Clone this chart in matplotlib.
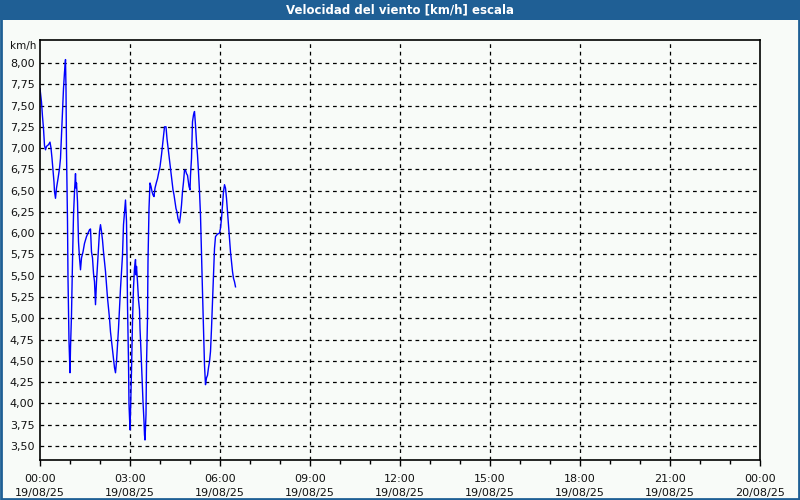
import matplotlib.pyplot as plt
from matplotlib.patches import Rectangle

# Wind speed samples: minutes after 00:00 on 19/08/25 and km/h
minutes = [0, 3, 5, 7, 9, 11, 13, 17, 20, 22, 24, 26, 28, 29, 31, 33, 36, 39, 41, 43,
           45, 47, 49, 51, 52, 53, 55, 56, 58, 60, 61, 63, 65, 67, 69, 71, 72, 73, 75, 76,
           77, 79, 81, 83, 86, 89, 93, 96, 99, 101, 103, 105, 107, 109, 111, 113, 115, 117,
           119, 121, 123, 125, 127, 129, 131, 133, 135, 137, 139, 141, 143, 145, 147, 149,
           151, 153, 155, 157, 159, 161, 163, 165, 166, 167, 169, 171, 173, 174, 175, 177,
           178, 179, 180, 181, 183, 185, 187, 189, 191, 192, 193, 195, 197, 199, 200, 202,
           204, 206, 208, 209, 210, 212, 213, 215, 216, 218, 220, 222, 224, 226, 228, 230,
           233, 235, 237, 240, 243, 245, 247, 249, 252, 254, 256, 258, 260, 262, 264, 266,
           268, 270, 272, 274, 276, 279, 281, 283, 285, 287, 289, 291, 293, 295, 297, 298,
           300, 301, 303, 304, 305, 307, 309, 311, 313, 315, 317, 319, 321, 323, 325, 327,
           329, 331, 333, 335, 337, 339, 341, 343, 345, 347, 349, 351, 355, 359, 361, 363,
           365, 367, 369, 371, 373, 375, 377, 379, 381, 383, 385, 387, 389, 391]
speed = [7.70, 7.54, 7.37, 7.23, 7.03, 6.98, 7.02, 7.04, 7.07, 7.00, 6.88, 6.74, 6.60, 6.49,
         6.41, 6.53, 6.64, 6.76, 6.88, 7.15, 7.41, 7.70, 7.89, 8.04, 7.70, 6.96, 6.14, 5.47,
         4.73, 4.36, 4.65, 5.04, 5.67, 6.21, 6.49, 6.70, 6.53, 6.59, 6.37, 6.14, 5.90, 5.71,
         5.57, 5.71, 5.78, 5.88, 5.96, 6.00, 6.04, 6.05, 5.78, 5.71, 5.53, 5.43, 5.16, 5.43,
         5.63, 5.82, 6.02, 6.10, 6.02, 5.92, 5.78, 5.67, 5.55, 5.39, 5.24, 5.12, 5.00, 4.84,
         4.73, 4.63, 4.53, 4.42, 4.36, 4.49, 4.69, 4.88, 5.12, 5.35, 5.55, 5.74, 5.94, 6.10,
         6.25, 6.39, 6.14, 5.74, 5.16, 4.49, 3.99, 3.83, 3.69, 3.90, 4.38, 4.96, 5.36, 5.59,
         5.69, 5.51, 5.61, 5.43, 5.22, 5.10, 4.88, 4.61, 4.30, 4.02, 3.79, 3.63, 3.57, 3.87,
         4.45, 5.00, 5.67, 6.29, 6.59, 6.55, 6.49, 6.45, 6.43, 6.53, 6.60, 6.64, 6.70, 6.78,
         6.92, 7.03, 7.15, 7.25, 7.25, 7.11, 7.01, 6.92, 6.80, 6.70, 6.60, 6.51, 6.45, 6.37,
         6.29, 6.25, 6.17, 6.12, 6.21, 6.33, 6.49, 6.60, 6.74, 6.74, 6.70, 6.68, 6.59, 6.55,
         6.51, 6.68, 6.88, 7.11, 7.31, 7.39, 7.43, 7.27, 7.07, 6.92, 6.72, 6.49, 6.21, 5.74,
         5.31, 4.88, 4.45, 4.22, 4.30, 4.33, 4.42, 4.49, 4.61, 4.88, 5.20, 5.51, 5.82, 5.96,
         5.99, 6.00, 6.06, 6.17, 6.33, 6.49, 6.57, 6.53, 6.41, 6.25, 6.10, 5.94, 5.78, 5.67,
         5.55, 5.47, 5.43, 5.37]

x_ticks = [0, 3, 6, 9, 12, 15, 18, 21, 24]
x_labels = ["00:00\n19/08/25", "03:00\n19/08/25", "06:00\n19/08/25", "09:00\n19/08/25",
            "12:00\n19/08/25", "15:00\n19/08/25", "18:00\n19/08/25", "21:00\n19/08/25",
            "00:00\n20/08/25"]
y_ticks = [3.50, 3.75, 4.00, 4.25, 4.50, 4.75, 5.00, 5.25, 5.50, 5.75,
           6.00, 6.25, 6.50, 6.75, 7.00, 7.25, 7.50, 7.75, 8.00]

title = "Velocidad del viento [km/h] escala"
bar_color = "#1f5f95"
bg = "#f8fbf8"

fig = plt.figure(figsize=(8, 5), dpi=100, facecolor=bg)

# title bar and outer frame
fig.patches.append(Rectangle((0, 0.96), 1, 0.04, transform=fig.transFigure,
                             facecolor=bar_color, edgecolor="none", zorder=0))
fig.patches.append(Rectangle((0.001, 0.002), 0.998, 0.996, transform=fig.transFigure,
                             facecolor="none", edgecolor=bar_color, linewidth=2, zorder=1))
fig.text(0.5, 0.98, title, color="white", fontsize=8.5, fontweight="bold",
         ha="center", va="center")

ax = fig.add_axes([0.05, 0.08, 0.90, 0.84])
ax.set_facecolor(bg)

hours = [m / 60 for m in minutes]
ax.plot(hours, speed, color="#0000ff", linewidth=1)

ax.set_xlim(0, 24)
ax.set_ylim(3.335, 8.27)
ax.set_xticks(x_ticks)
ax.set_xticklabels(x_labels, fontsize=8, color="#111111", linespacing=1.5)
ax.set_xticks(range(25), minor=True)
ax.set_yticks(y_ticks)
ax.set_yticklabels([f"{v:.2f}".replace(".", ",") for v in y_ticks], fontsize=8, color="#111111")

ax.tick_params(axis="x", which="major", length=4, width=1, pad=6)
ax.tick_params(axis="x", which="minor", length=3, width=1)
ax.tick_params(axis="y", length=0, pad=4)

for v in y_ticks:
    ax.axhline(v, color="black", linewidth=0.9, linestyle=(0, (3, 3)), zorder=1)
for h in x_ticks[1:-1]:
    ax.axvline(h, color="black", linewidth=0.9, linestyle=(0, (3, 3)), zorder=1)

for s in ax.spines.values():
    s.set_linewidth(1.2)
    s.set_color("black")

fig.text(0.045, 0.908, "km/h", fontsize=7.5, color="#111111", ha="right", va="center")

fig.savefig("out.png", dpi=100, facecolor=bg)
